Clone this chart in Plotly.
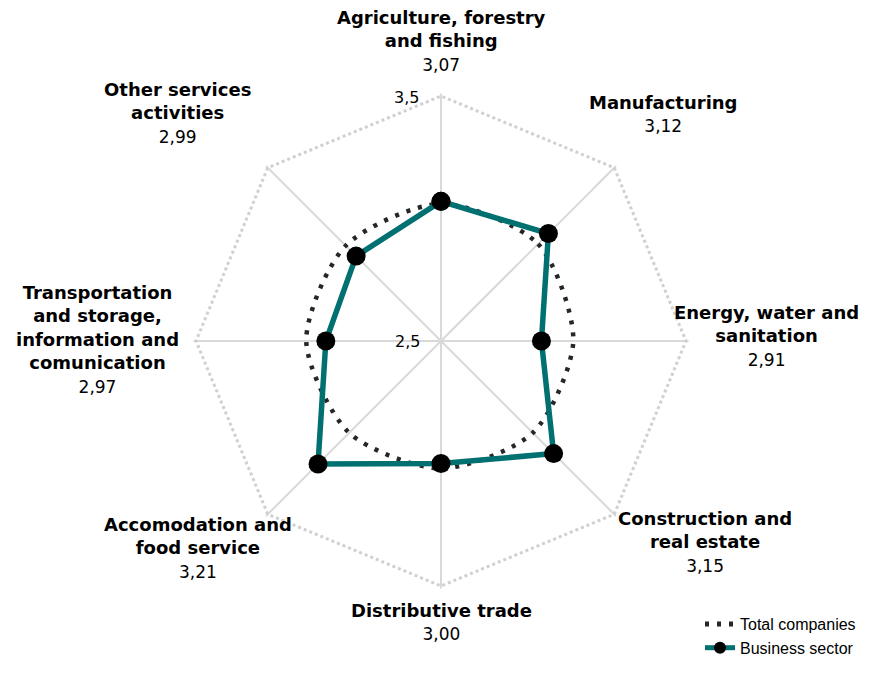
import plotly.graph_objects as go

categories = [
    "Agriculture, forestry<br>and fishing",
    "Manufacturing",
    "Energy, water and<br>sanitation",
    "Construction and<br>real estate",
    "Distributive trade",
    "Accomodation and<br>food service",
    "Transportation<br>and storage,<br>information and<br>comunication",
    "Other services<br>activities",
]
business_sector = [3.07, 3.12, 2.91, 3.15, 3.00, 3.21, 2.97, 2.99]
total_companies = [3.06, 3.06, 3.04, 3.03, 3.02, 3.03, 3.05, 3.05]
radial_ticks = [2.5, 3.5]
radial_ticktext = ["2,5", "3,5"]

# ---- layout settings (pixels on the page, top-left origin) ----
W, H = 872, 683
OFF = 8  # page body margin
CX, CY, R = 441, 341, 245
RMAX = 3.51
label_px = [(441, 41), (663, 114), (766, 336), (705, 542),
            (441, 622), (198, 548), (97, 339), (177, 113)]
radial_label_px = [(407, 341), (406, 97)]


def fx(px):
    return (px - OFF) / W


def fy(py):
    return 1 - (py - OFF) / H


Rdom = R * (RMAX - 2.5) / (3.5 - 2.5)
theta = [f"c{i}" for i in range(len(categories))]
TEAL = "#007070"

fig = go.Figure()
fig.add_trace(go.Scatterpolar(
    r=total_companies + total_companies[:1],
    theta=theta + theta[:1],
    mode="lines",
    name="Total companies",
    line=dict(color="#262626", width=4.5, dash="4px,8px", shape="spline", smoothing=0.8),
))
fig.add_trace(go.Scatterpolar(
    r=business_sector + business_sector[:1],
    theta=theta + theta[:1],
    mode="lines+markers",
    name="Business sector",
    line=dict(color=TEAL, width=5.5),
    marker=dict(color="black", size=19),
))

annotations = []
for (c, v, (px, py)) in zip(categories, business_sector, label_px):
    txt = f"<b>{c}</b><br><span style='font-size:17px'>{v:.2f}</span>".replace(".", ",")
    annotations.append(dict(
        text=txt, x=fx(px), y=fy(py), xref="paper", yref="paper",
        xanchor="center", yanchor="middle", align="center", showarrow=False,
        font=dict(family="DejaVu Sans, Liberation Sans, Arial", size=18, color="black"),
    ))
for (t, (px, py)) in zip(radial_ticktext, radial_label_px):
    annotations.append(dict(
        text=t, x=fx(px), y=fy(py), xref="paper", yref="paper",
        xanchor="center", yanchor="middle", showarrow=False,
        font=dict(family="DejaVu Sans, Liberation Sans, Arial", size=16, color="black"),
    ))

fig.update_layout(
    width=W, height=H,
    margin=dict(l=0, r=0, t=0, b=0),
    paper_bgcolor="white",
    plot_bgcolor="white",
    separators=",.",
    font=dict(family="Liberation Sans, Arial", size=16, color="black"),
    annotations=annotations,
    polar=dict(
        domain=dict(x=[fx(CX - Rdom), fx(CX + Rdom)], y=[fy(CY + Rdom), fy(CY - Rdom)]),
        bgcolor="white",
        gridshape="linear",
        radialaxis=dict(
            range=[2.5, RMAX],
            tickvals=radial_ticks,
            ticktext=radial_ticktext,
            showticklabels=False,
            angle=90,
            showline=False,
            ticks="",
            gridcolor="#d0d0d0",
            gridwidth=2.5,
            griddash="dot",
        ),
        angularaxis=dict(
            rotation=90,
            direction="clockwise",
            tickvals=theta,
            showticklabels=False,
            showline=False,
            gridcolor="#d9d9d9",
            gridwidth=2,
            ticks="",
        ),
    ),
    legend=dict(
        x=fx(700), y=fy(607), xanchor="left", yanchor="top",
        font=dict(family="Liberation Sans, Arial", size=16, color="black"),
        bgcolor="rgba(0,0,0,0)",
        tracegroupgap=0,
        itemsizing="constant",
    ),
)

fig.write_html("out.html")
